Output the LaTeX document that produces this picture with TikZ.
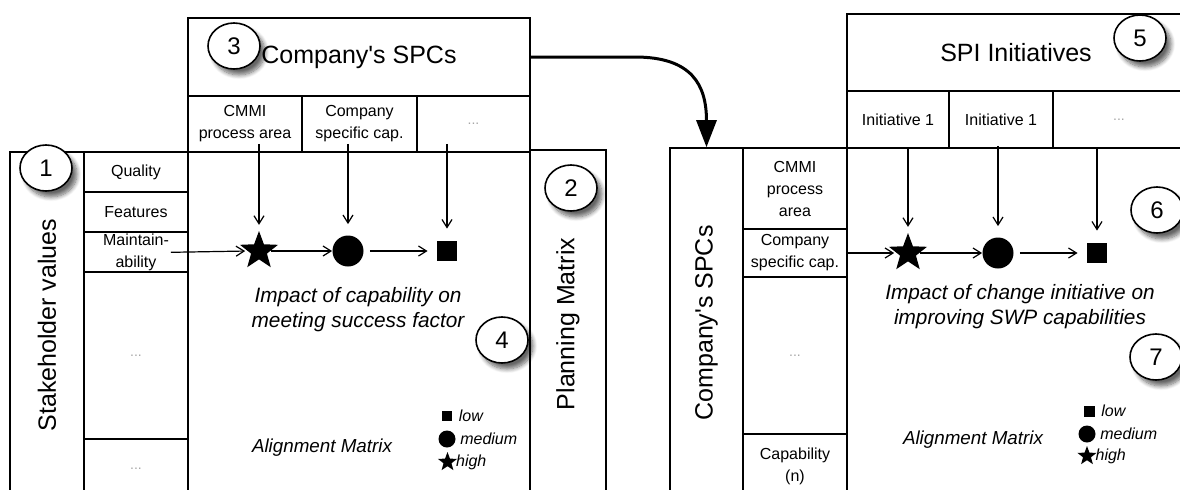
\documentclass[tikz,border=0pt]{standalone}
\usepackage{fontspec}
\setmainfont{Liberation Sans}
\usetikzlibrary{arrows.meta,shapes.geometric,positioning,shadows.blur}

\tikzset{
  cellbox/.style={draw, line width=0.8pt, inner sep=0pt, align=center,
    font=\fontsize{8}{11}\selectfont},
  headbox/.style={draw, line width=0.8pt, inner sep=0pt,
    font=\fontsize{12.5}{15}\selectfont},
  colbox/.style={headbox, rotate=90},
  etcbox/.style={cellbox, text=gray!70, font=\fontsize{7}{8}\selectfont},
  numbadge/.style={ellipse, draw, fill=white, line width=0.8pt,
    minimum width=26pt, minimum height=23pt, inner sep=0pt,
    font=\fontsize{12}{14}\selectfont,
    blur shadow={shadow xshift=2.5pt, shadow yshift=-3pt,
      shadow blur steps=8, shadow opacity=60}},
  starmark/.style={star, star points=5, star point ratio=2.4, fill, inner sep=0pt},
  dotmark/.style={circle, fill, inner sep=0pt},
  sqmark/.style={rectangle, fill, inner sep=0pt},
  linkarrow/.style={-{Straight Barb[length=4pt,width=5pt]}, line width=0.6pt},
  bigarrow/.style={-{Triangle[length=13.5pt,width=10pt]}, line width=1.5pt},
  notetext/.style={align=center, font=\fontsize{10.4}{12.5}\selectfont\itshape},
  legtext/.style={inner sep=0pt, font=\fontsize{8}{9}\selectfont\itshape},
}

\begin{document}
\begin{tikzpicture}[x=0.5pt, y=-0.5pt]
  \path[use as bounding box, clip] (0,0) rectangle (1180,489);

  % Left: stakeholder values
  \node[colbox, minimum width=173pt, minimum height=37pt] (stake) at (47,325) {Stakeholder values};
  \node[cellbox, minimum width=52pt, minimum height=20pt] (quality) at (136,172) {Quality};
  \node[cellbox, minimum width=52pt, minimum height=20pt] (features) at (136,212) {Features};
  \node[cellbox, minimum width=52pt, minimum height=20pt] (maint) at (136,252) {Maintain-\\ability};
  \node[etcbox, minimum width=52pt, minimum height=83.5pt] (etcA) at (136,355.5) {...};
  \node[etcbox, minimum width=52pt, minimum height=29.5pt] (etcB) at (136,468.5) {...};

  % Left: alignment matrix and planning matrix
  \draw[line width=0.8pt] (188,152) rectangle (530,498);
  \node[colbox, minimum width=174pt, minimum height=38pt] (planning) at (568,324) {Planning Matrix};

  % Left: company's SPCs header
  \node[headbox, minimum width=171pt, minimum height=39pt] (spcsA) at (359,57) {Company\textquotesingle s SPCs};
  \node[cellbox, minimum width=57pt, minimum height=28pt] (cmmiA) at (245,124) {CMMI\\process area};
  \node[cellbox, minimum width=57.5pt, minimum height=28pt] (compA) at (359.5,124) {Company\\specific cap.};
  \node[etcbox, minimum width=56.5pt, minimum height=28pt] (etcC) at (473.5,124) {...};

  % Left: impact marks
  \node[starmark, minimum size=20pt] (starA) at (259,251) {};
  \node[dotmark, minimum size=15.5pt] (dotA) at (348,251) {};
  \node[sqmark, minimum size=10pt] (sqA) at (447,251) {};

  \draw[linkarrow, shorten <=-4.5pt, shorten >=2.5pt] (cmmiA.south -| starA) -- (starA.north);
  \draw[linkarrow, shorten <=-4.5pt, shorten >=5.5pt] (compA.south -| dotA) -- (dotA.north);
  \draw[linkarrow, shorten <=-4.5pt, shorten >=6pt] (etcC.south -| sqA) -- (sqA.north);
  \draw[linkarrow, shorten <=-9pt, shorten >=1pt] (maint.east) -- (starA.west);
  \draw[linkarrow] (starA.east) -- (dotA.west);
  \draw[linkarrow, shorten <=3pt, shorten >=4.5pt] (dotA.east) -- (sqA.west);

  \node[notetext] (impactA) at (358,310) {Impact of capability on\\meeting success factor};
  \node[font=\fontsize{9.4}{11}\selectfont\itshape] (alignA) at (322,448) {Alignment Matrix};

  % Left: legend
  \node[sqmark, minimum size=5pt] (lgsqA) at (447,416) {};
  \node[dotmark, minimum size=8.5pt] (lgdotA) at (447,439) {};
  \node[starmark, minimum size=10pt] (lgstarA) at (447.5,462) {};
  \node[legtext, right=3pt of lgsqA] (lowA) {low};
  \node[legtext, right=2pt of lgdotA] (mediumA) {medium};
  \node[legtext, right=1pt of lgstarA] (highA) {high};

  % Right: company's SPCs
  \node[colbox, minimum width=175pt, minimum height=36.5pt] (spcsB) at (706.5,323) {Company\textquotesingle s SPCs};
  \node[cellbox, minimum width=52pt, minimum height=40.5pt] (cmmiB) at (795,188.5) {CMMI\\process\\area};
  \node[cellbox, minimum width=52pt, minimum height=24pt] (compB) at (795,253) {Company\\specific cap.};
  \node[etcbox, minimum width=52pt, minimum height=78.5pt] (etcD) at (795,355.5) {...};
  \node[cellbox, minimum width=52pt, minimum height=32pt] (capB) at (795,466) {Capability\\(n)};

  \draw[line width=0.8pt] (847,148) rectangle (1190,498);

  % Right: SPI initiatives header
  \node[headbox, minimum width=169pt, minimum height=38.5pt] (spi) at (1016,52.5) {SPI Initiatives};
  \node[cellbox, minimum width=51pt, minimum height=28.5pt] (initA) at (898,119.5) {Initiative 1};
  \node[cellbox, minimum width=52pt, minimum height=28.5pt] (initB) at (1001,119.5) {Initiative 1};
  \node[etcbox, minimum width=66pt, minimum height=28.5pt] (etcE) at (1119,119.5) {...};

  % Right: impact marks
  \node[starmark, minimum size=20pt] (starB) at (908,253) {};
  \node[dotmark, minimum size=15.5pt] (dotB) at (998,253) {};
  \node[sqmark, minimum size=10pt] (sqB) at (1097,253) {};

  \draw[linkarrow, shorten >=2.5pt] (initA.south -| starB) -- (starB.north);
  \draw[linkarrow, shorten <=-1.5pt, shorten >=5.5pt] (initB.south -| dotB) -- (dotB.north);
  \draw[linkarrow, shorten >=6pt] (etcE.south -| sqB) -- (sqB.north);
  \draw[linkarrow, shorten <=-1pt, shorten >=1pt] (compB.east) -- (starB.west);
  \draw[linkarrow] (starB.east) -- (dotB.west);
  \draw[linkarrow, shorten <=3pt, shorten >=4.5pt] (dotB.east) -- (sqB.west);

  \node[notetext] (impactB) at (1020,307) {Impact of change initiative on\\improving SWP capabilities};
  \node[font=\fontsize{9.4}{11}\selectfont\itshape] (alignB) at (973,440) {Alignment Matrix};

  % Right: legend
  \node[sqmark, minimum size=5.5pt] (lgsqB) at (1089,411) {};
  \node[dotmark, minimum size=8.5pt] (lgdotB) at (1087,434) {};
  \node[starmark, minimum size=10pt] (lgstarB) at (1087,456) {};
  \node[legtext, right=3pt of lgsqB] (lowB) {low};
  \node[legtext, right=2pt of lgdotB] (mediumB) {medium};
  \node[legtext, right=1pt of lgstarB] (highB) {high};

  % Hand-over arrow
  \draw[bigarrow] (spcsA.east) -- (635,57) .. controls (692,57) and (706.5,85) .. (spcsB.east);

  % Numbered badges
  \node[numbadge] (n1) at (46,168) {1};
  \node[numbadge] (n2) at (571,188) {2};
  \node[numbadge] (n3) at (234,46) {3};
  \node[numbadge] (n4) at (502,340) {4};
  \node[numbadge] (n5) at (1140,38) {5};
  \node[numbadge] (n6) at (1157,210) {6};
  \node[numbadge] (n7) at (1156,357) {7};
\end{tikzpicture}
\end{document}
